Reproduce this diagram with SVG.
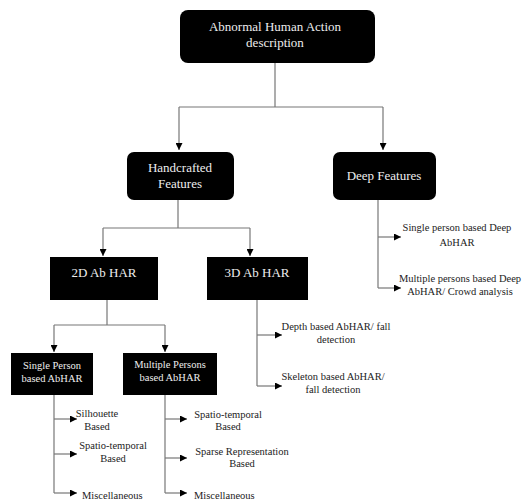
<svg xmlns="http://www.w3.org/2000/svg" width="531" height="503" viewBox="0 0 531 503">
<style>
.box{fill:#000;}
.bt{font-family:"Liberation Serif",serif;font-size:13px;fill:#eee;text-anchor:middle;}
.bs{font-family:"Liberation Serif",serif;font-size:10.5px;fill:#eee;text-anchor:middle;}
.lt{font-family:"Liberation Serif",serif;font-size:10.5px;fill:#222;text-anchor:middle;}
.ln{fill:none;stroke:#777;stroke-width:1.2;}
</style>
<defs>
<marker id="ad" viewBox="0 0 10 10" refX="10" refY="5" markerWidth="7" markerHeight="7" orient="auto" markerUnits="userSpaceOnUse">
<path d="M0,0 L10,5 L0,10 Z" fill="#000"/>
</marker>
</defs>
<rect width="531" height="503" fill="#fff"/>
<g id="connectors">
<path class="ln" d="M275,63 V107 M179,107 H383" />
<path class="ln" d="M179,107 V150" marker-end="url(#ad)"/>
<path class="ln" d="M383,107 V150" marker-end="url(#ad)"/>
<path class="ln" d="M178,200 V228 M103,228 H250"/>
<path class="ln" d="M103,228 V256" marker-end="url(#ad)"/>
<path class="ln" d="M250,228 V256" marker-end="url(#ad)"/>
<path class="ln" d="M378,200 V288"/>
<path class="ln" d="M378,237 H401" marker-end="url(#ad)"/>
<path class="ln" d="M378,288 H401" marker-end="url(#ad)"/>
<path class="ln" d="M107,300 V325 M54,325 H165"/>
<path class="ln" d="M54,325 V352" marker-end="url(#ad)"/>
<path class="ln" d="M165,325 V352" marker-end="url(#ad)"/>
<path class="ln" d="M257,300 V386"/>
<path class="ln" d="M257,335 H282" marker-end="url(#ad)"/>
<path class="ln" d="M257,386 H282" marker-end="url(#ad)"/>
<path class="ln" d="M54,395 V493"/>
<path class="ln" d="M54,419 H77" marker-end="url(#ad)"/>
<path class="ln" d="M54,454 H77" marker-end="url(#ad)"/>
<path class="ln" d="M54,493 H77" marker-end="url(#ad)"/>
<path class="ln" d="M165,395 V493"/>
<path class="ln" d="M165,419 H187" marker-end="url(#ad)"/>
<path class="ln" d="M165,458 H187" marker-end="url(#ad)"/>
<path class="ln" d="M165,493 H187" marker-end="url(#ad)"/>
</g>
<g id="root">
<rect class="box" x="180" y="10" width="195" height="53" rx="8"/>
<text class="bt" x="275" y="31">Abnormal Human Action</text>
<text class="bt" x="275" y="47">description</text>
</g>
<g id="handcrafted">
<rect class="box" x="127" y="152" width="107" height="48" rx="7"/>
<text class="bt" x="180" y="172">Handcrafted</text>
<text class="bt" x="180" y="188">Features</text>
</g>
<g id="deep">
<rect class="box" x="333" y="152" width="103" height="48" rx="7"/>
<text class="bt" x="384" y="180">Deep Features</text>
</g>
<g id="ab2d">
<rect class="box" x="50" y="257" width="108" height="43"/>
<text class="bt" x="104" y="277">2D Ab HAR</text>
</g>
<g id="ab3d">
<rect class="box" x="207" y="257" width="101" height="43"/>
<text class="bt" x="257" y="277">3D Ab HAR</text>
</g>
<g id="single">
<rect class="box" x="11" y="353" width="82" height="42"/>
<text class="bs" x="52" y="369">Single Person</text>
<text class="bs" x="52" y="382">based AbHAR</text>
</g>
<g id="multiple">
<rect class="box" x="123" y="353" width="94" height="42"/>
<text class="bs" x="170" y="368">Multiple Persons</text>
<text class="bs" x="170" y="381">based AbHAR</text>
</g>
<g id="deep-single">
<text class="lt" x="457" y="231">Single person based Deep</text>
<text class="lt" x="457" y="246">AbHAR</text>
</g>
<g id="deep-multi">
<text class="lt" x="460" y="282">Multiple persons based Deep</text>
<text class="lt" x="460" y="295">AbHAR/ Crowd analysis</text>
</g>
<g id="depth">
<text class="lt" x="336" y="330">Depth based AbHAR/ fall</text>
<text class="lt" x="336" y="343">detection</text>
</g>
<g id="skeleton">
<text class="lt" x="333" y="380">Skeleton based AbHAR/</text>
<text class="lt" x="333" y="393">fall detection</text>
</g>
<g id="silhouette">
<text class="lt" x="97" y="417">Silhouette</text>
<text class="lt" x="97" y="430">Based</text>
</g>
<g id="sp-spatio">
<text class="lt" x="113" y="449">Spatio-temporal</text>
<text class="lt" x="113" y="462">Based</text>
</g>
<g id="sp-misc">
<text class="lt" x="82" y="499" text-anchor="start" style="text-anchor:start">Miscellaneous</text>
</g>
<g id="mp-spatio">
<text class="lt" x="228" y="418">Spatio-temporal</text>
<text class="lt" x="228" y="430">Based</text>
</g>
<g id="mp-sparse">
<text class="lt" x="242" y="455">Sparse Representation</text>
<text class="lt" x="242" y="467">Based</text>
</g>
<g id="mp-misc">
<text class="lt" x="194" y="499" style="text-anchor:start">Miscellaneous</text>
</g>
</svg>
